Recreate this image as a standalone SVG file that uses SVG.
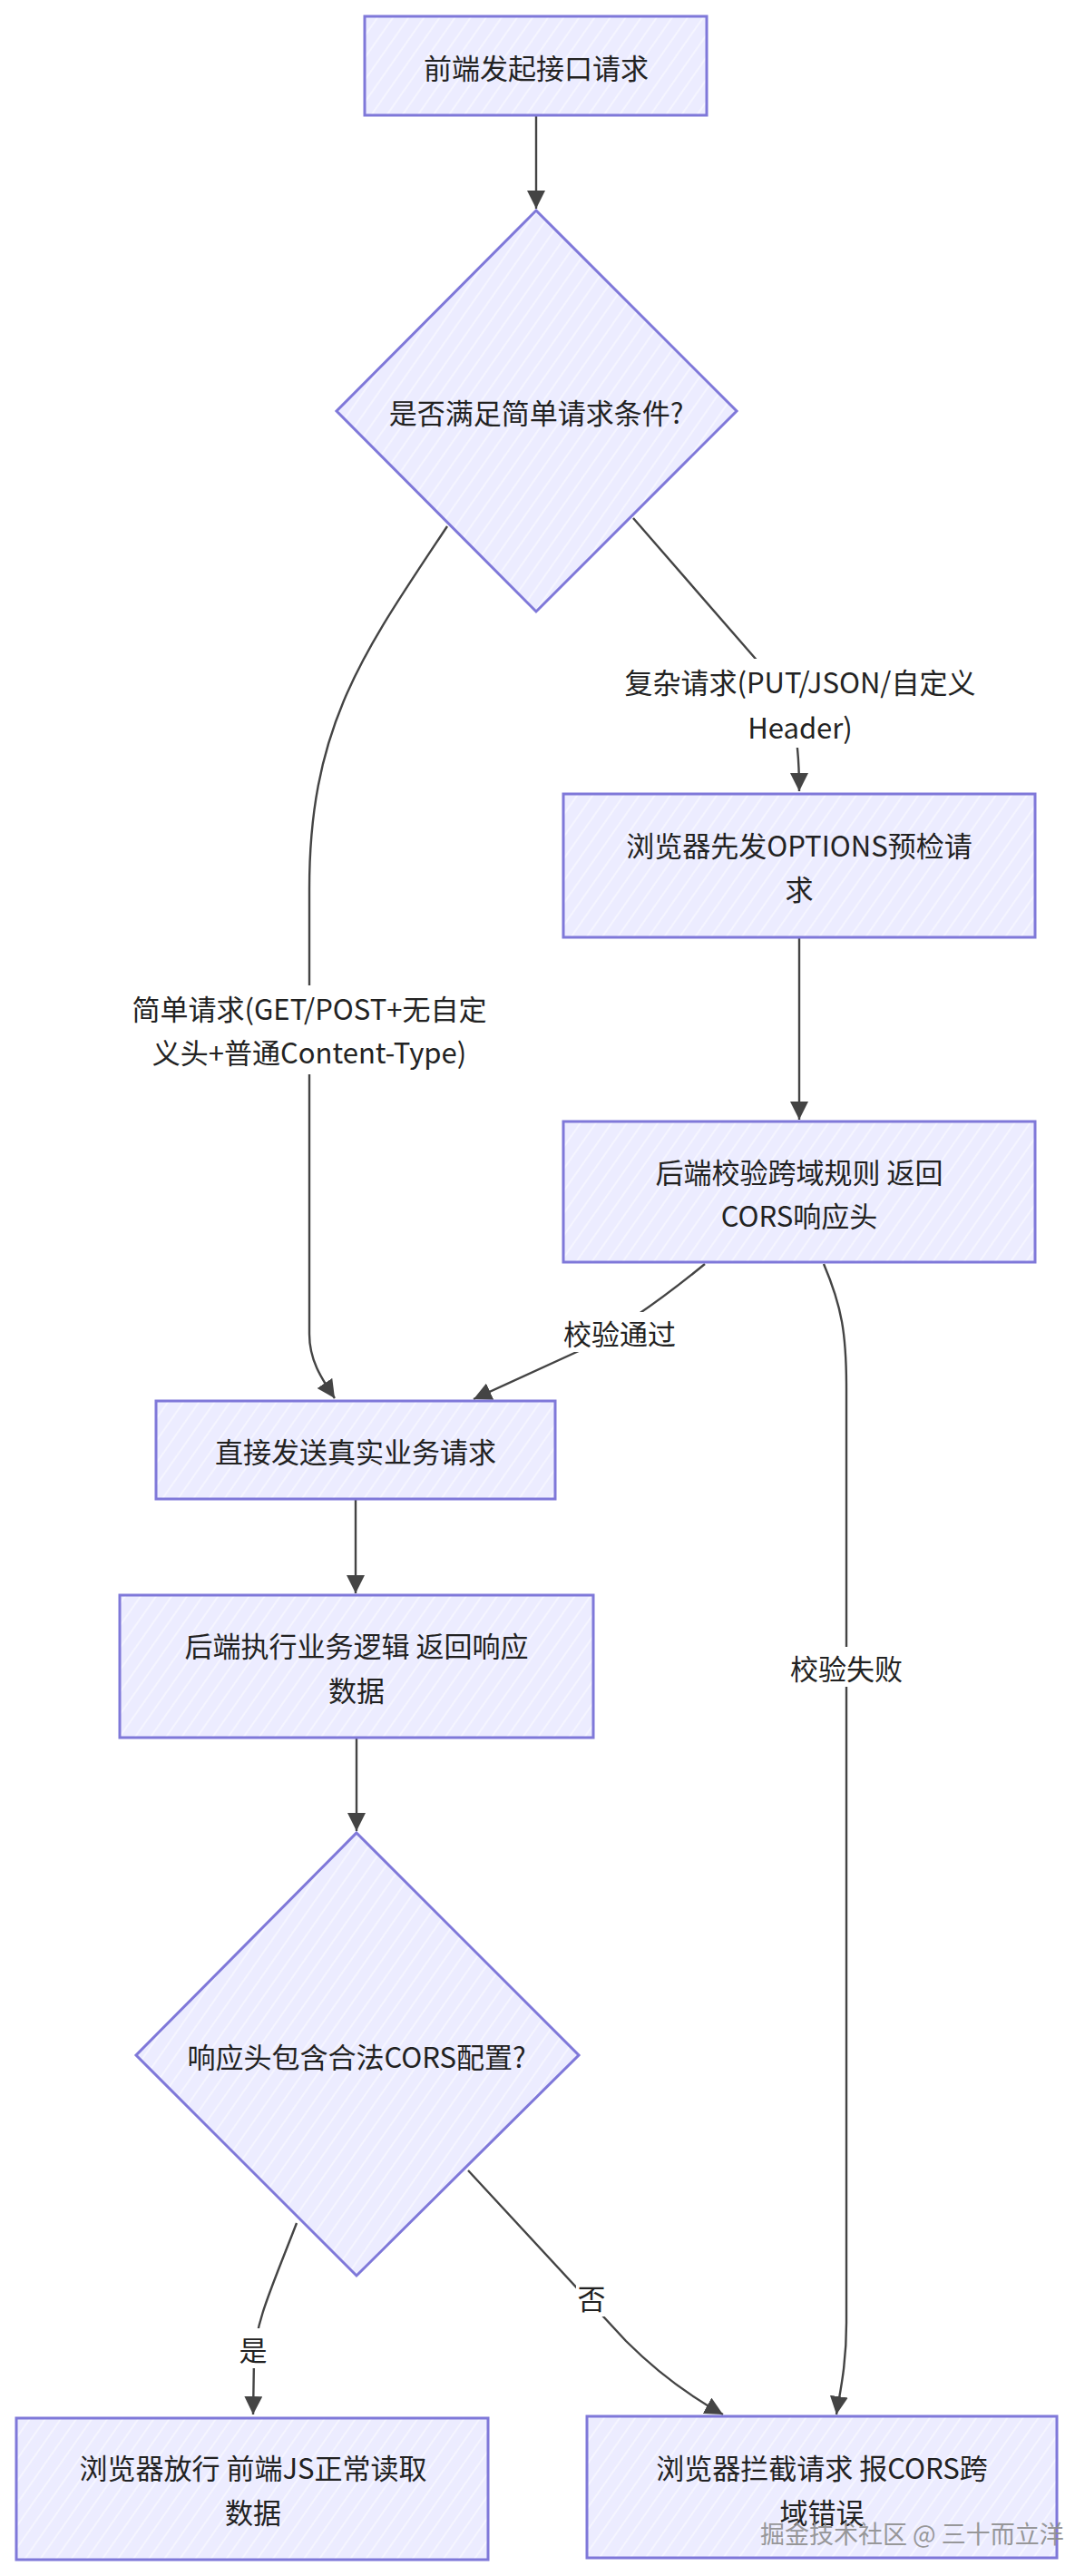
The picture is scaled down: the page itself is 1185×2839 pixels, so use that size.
<svg xmlns="http://www.w3.org/2000/svg" width="1185" height="2839" viewBox="0 0 1185 2839">
<style>
.node{fill:url(#hatch);stroke:#7f78d9;stroke-width:3}
.t{font-family:"Noto Sans CJK SC","Noto Sans",sans-serif;font-size:31px;fill:#222;text-anchor:middle;dominant-baseline:central}
.edge{fill:none;stroke:#444;stroke-width:2.4}
.lbl{fill:#fff}
.wm{font-family:"Noto Sans CJK SC","Noto Sans",sans-serif;font-size:27px;fill:#8e8e8e;text-anchor:start;dominant-baseline:central;opacity:0.9}
</style>
<defs>
<pattern id="hatch" width="14" height="14" patternUnits="userSpaceOnUse" patternTransform="rotate(35)">
<rect width="14" height="14" fill="#ececff"/>
<line x1="2" y1="0" x2="2" y2="14" stroke="#ffffff" stroke-width="1.3" opacity="0.75"/>
</pattern>
<marker id="arr" viewBox="0 0 10 10" refX="10" refY="5" markerWidth="20" markerHeight="20" markerUnits="userSpaceOnUse" orient="auto">
<path d="M0,0 L10,5 L0,10 z" fill="#444"/>
</marker>
</defs>
<rect width="1185" height="2839" fill="#ffffff"/>

<g id="connectors">
<path class="edge" d="M591,127 L591,230" marker-end="url(#arr)"/>
<path class="edge" d="M493,580 C400,720 341,800 341,980 L341,1470 C341,1500 355,1520 369,1541" marker-end="url(#arr)"/>
<path class="edge" d="M698,571 L845,740 C872,772 881,800 881,872" marker-end="url(#arr)"/>
<path class="edge" d="M881,1033 L881,1234" marker-end="url(#arr)"/>
<path class="edge" d="M777,1393 Q705,1452 640,1488 L522,1542" marker-end="url(#arr)"/>
<path class="edge" d="M908,1393 C928,1440 933,1470 933,1530 L933,2560 C933,2610 925,2640 922,2661" marker-end="url(#arr)"/>
<path class="edge" d="M392,1652 L392,1756" marker-end="url(#arr)"/>
<path class="edge" d="M393,1915 L393,2018" marker-end="url(#arr)"/>
<path class="edge" d="M327,2450 C300,2520 281,2560 280,2600 L279,2661" marker-end="url(#arr)"/>
<path class="edge" d="M516,2392 L690,2580 C730,2620 768,2645 797,2661" marker-end="url(#arr)"/>

<rect class="lbl" x="140" y="1086" width="403" height="98"/>
<text class="t" x="341" y="1110">简单请求(GET/POST+无自定</text>
<text class="t" x="341" y="1158">义头+普通Content-Type)</text>

<rect class="lbl" x="682" y="726" width="398" height="98"/>
<text class="t" x="882" y="750">复杂请求(PUT/JSON/自定义</text>
<text class="t" x="882" y="800">Header)</text>

<rect class="lbl" x="618" y="1446" width="130" height="44"/>
<text class="t" x="683" y="1468">校验通过</text>

<rect class="lbl" x="868" y="1815" width="130" height="44"/>
<text class="t" x="933" y="1837">校验失败</text>

<rect class="lbl" x="262" y="2566" width="34" height="44"/>
<text class="t" x="279" y="2588">是</text>

<rect class="lbl" x="635" y="2509" width="34" height="44"/>
<text class="t" x="652" y="2531">否</text>
</g>

<g id="n1">
<rect class="node" x="402" y="18" width="377" height="109"/>
<text class="t" x="591" y="73">前端发起接口请求</text>
</g>
<g id="d1">
<path class="node" d="M591,232 L812,453 L591,674 L371,453 Z"/>
<text class="t" x="591" y="453">是否满足简单请求条件?</text>
</g>
<g id="n3">
<rect class="node" x="621" y="875" width="520" height="158"/>
<text class="t" x="881" y="930">浏览器先发OPTIONS预检请</text>
<text class="t" x="881" y="978">求</text>
</g>
<g id="n4">
<rect class="node" x="621" y="1236" width="520" height="155"/>
<text class="t" x="881" y="1290">后端校验跨域规则 返回</text>
<text class="t" x="881" y="1338">CORS响应头</text>
</g>
<g id="n5">
<rect class="node" x="172" y="1544" width="440" height="108"/>
<text class="t" x="392" y="1598">直接发送真实业务请求</text>
</g>
<g id="n6">
<rect class="node" x="132" y="1758" width="522" height="157"/>
<text class="t" x="393" y="1812">后端执行业务逻辑 返回响应</text>
<text class="t" x="393" y="1861">数据</text>
</g>
<g id="d2">
<path class="node" d="M393,2020 L638,2265 L393,2508 L150,2265 Z"/>
<text class="t" x="393" y="2265">响应头包含合法CORS配置?</text>
</g>
<g id="n9">
<rect class="node" x="18" y="2665" width="520" height="156"/>
<text class="t" x="279" y="2718">浏览器放行 前端JS正常读取</text>
<text class="t" x="279" y="2767">数据</text>
</g>
<g id="n10">
<rect class="node" x="647" y="2663" width="518" height="156"/>
<text class="t" x="906" y="2718">浏览器拦截请求 报CORS跨</text>
<text class="t" x="906" y="2767">域错误</text>
</g>
<text class="wm" x="838" y="2791">掘金技术社区 @ 三十而立洋</text>
</svg>
